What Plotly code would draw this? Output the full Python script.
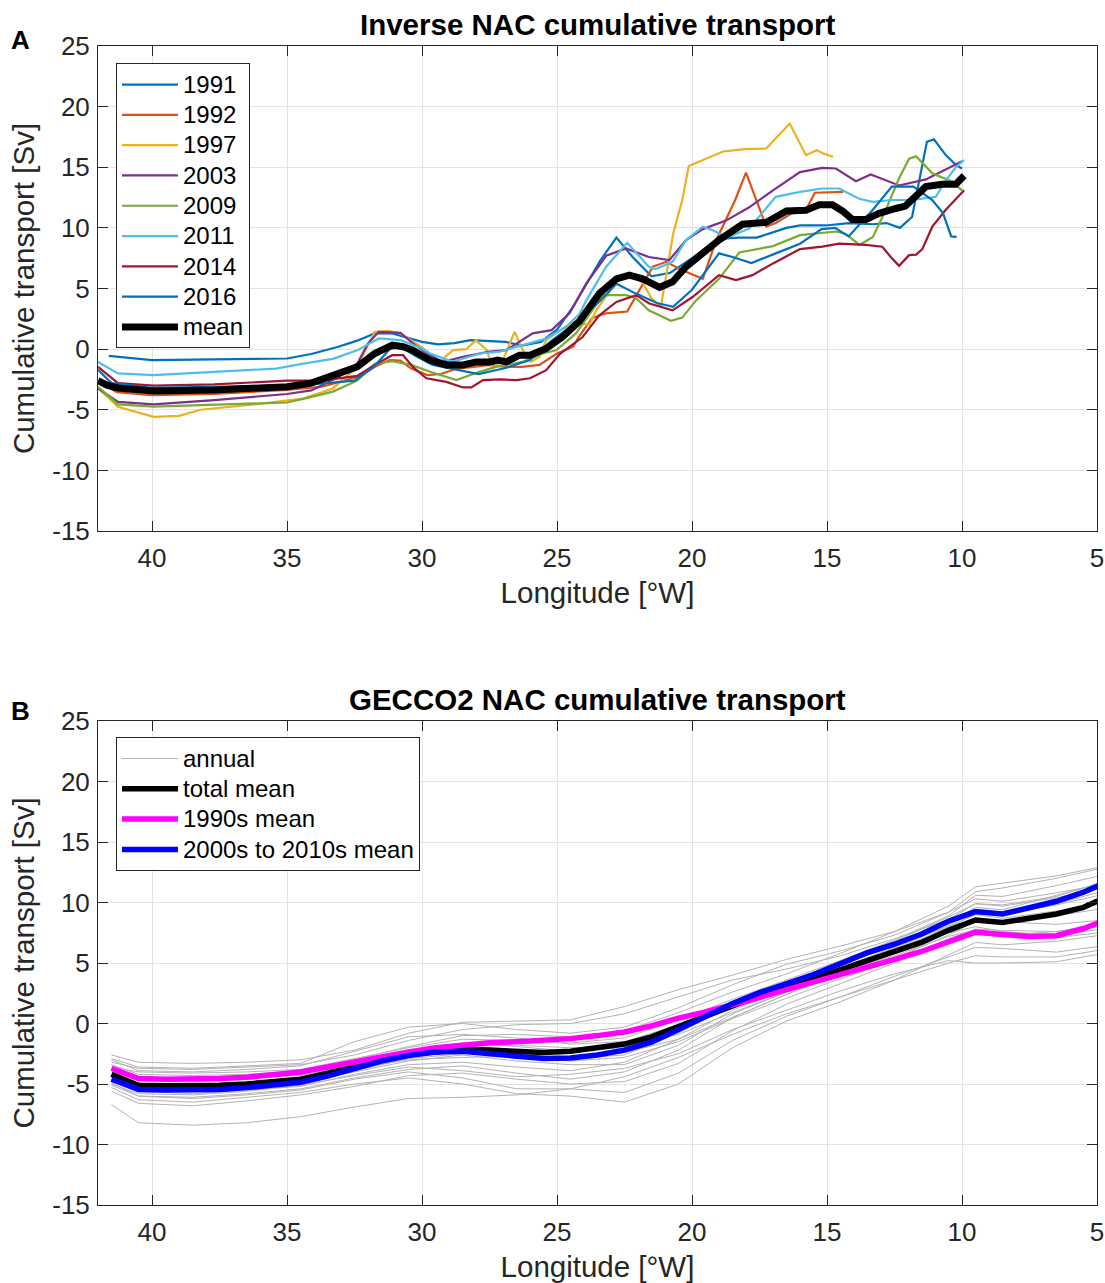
import plotly.graph_objects as go

# ---------------- Panel A data (inverse estimates) ----------------
lon_1991 = [41.6, 40.0, 37.7, 35.0, 34.1, 33.1, 32.4, 31.75, 31.1, 30.5, 30.0, 29.4, 28.8, 28.2, 27.5, 26.9, 26.3, 25.6, 25.0, 24.4, 23.4, 22.8, 22.2, 21.5, 20.8, 20.0, 19.0, 18.3, 17.6, 16.5, 16.0, 15.05, 14.2, 13.3, 12.8, 12.3, 11.85, 11.5, 11.3, 11.04, 10.85, 10.6, 10.23, 10.0]
val_1991 = [-0.55, -0.9, -0.85, -0.77, -0.4, 0.2, 0.7, 1.3, 1.3, 0.9, 0.6, 0.4, 0.5, 0.75, 0.7, 0.6, 0.3, 0.6, 1.6, 3.5, 7.3, 9.2, 7.6, 6.0, 6.3, 7.5, 9.1, 9.2, 9.2, 10.0, 10.2, 10.2, 10.4, 10.3, 10.4, 10.0, 10.9, 15.0, 17.1, 17.3, 16.7, 16.0, 15.2, 14.9]

lon_1992 = [42.0, 41.3, 40.0, 37.7, 35.0, 33.7, 32.4, 31.75, 31.2, 30.8, 30.4, 29.8, 29.3, 28.7, 28.1, 27.5, 26.9, 26.3, 25.65, 25.0, 24.4, 24.2, 23.7, 23.2, 22.4, 21.95, 21.45, 20.96, 20.36, 19.6, 19.1, 18.4, 18.0, 17.25, 16.9, 16.3, 15.8, 15.45, 14.4]
val_1992 = [-2.7, -3.55, -3.8, -3.7, -3.36, -3.1, -2.3, -1.46, -0.9, -0.95, -1.6, -2.14, -2.05, -1.6, -1.46, -1.3, -1.46, -1.46, -1.3, -0.36, 0.2, 1.0, 2.55, 2.95, 3.1, 4.87, 6.8, 7.2, 6.5, 5.8, 9.0, 12.3, 14.55, 10.1, 10.4, 11.2, 11.4, 12.9, 12.97]

lon_1997 = [42.0, 41.26, 39.94, 39.0, 38.2, 36.4, 34.4, 33.3, 32.4, 31.75, 31.23, 30.8, 30.04, 29.35, 28.85, 28.36, 28.0, 27.6, 27.38, 27.0, 26.57, 26.27, 25.96, 25.65, 25.4, 24.43, 23.8, 23.55, 22.8, 22.2, 21.8, 21.5, 21.15, 20.7, 20.36, 20.12, 18.85, 18.05, 17.25, 16.38, 15.78, 15.38, 15.1, 14.78]
val_1997 = [-3.2, -4.76, -5.58, -5.5, -5.0, -4.6, -4.07, -3.24, -1.46, 1.43, 1.5, 1.3, 0.2, -1.05, -0.08, 0.0, 0.74, -0.08, -1.57, -0.9, 1.43, -0.08, -1.05, -0.63, 0.74, 2.25, 2.0, 3.2, 5.55, 6.1, 5.4, 4.2, 3.5, 9.5, 12.3, 15.1, 16.3, 16.5, 16.55, 18.6, 16.0, 16.4, 16.1, 15.87]

lon_2003 = [42.0, 41.26, 39.94, 37.7, 35.0, 34.1, 33.1, 32.4, 32.0, 31.6, 30.8, 30.34, 29.7, 29.24, 28.4, 27.5, 26.88, 26.39, 25.9, 25.2, 24.54, 23.92, 23.18, 22.44, 21.6, 20.84, 20.22, 19.6, 18.74, 17.88, 17.0, 16.0, 15.18, 14.67, 13.93, 13.38, 12.33, 11.34, 10.0]
val_2003 = [-3.24, -4.35, -4.55, -4.2, -3.7, -3.4, -2.3, -1.2, 0.47, 1.43, 1.35, 0.47, -0.5, -1.05, -0.6, -0.2, -0.08, 0.6, 1.3, 1.57, 2.95, 5.4, 7.7, 8.3, 7.6, 7.34, 9.0, 9.9, 10.6, 11.7, 13.1, 14.6, 14.95, 14.9, 13.85, 14.4, 13.5, 14.0, 15.5]

lon_2009 = [42.0, 41.26, 39.94, 37.7, 35.0, 34.4, 33.3, 32.4, 31.75, 31.1, 30.4, 29.7, 28.73, 27.87, 27.26, 26.27, 25.53, 25.03, 24.3, 23.3, 22.44, 22.07, 21.6, 20.78, 20.36, 19.86, 19.0, 18.25, 17.0, 16.0, 14.67, 14.3, 13.8, 13.3, 12.82, 12.33, 11.96, 11.7, 11.1, 10.36, 10.0]
val_2009 = [-3.1, -4.55, -4.74, -4.58, -4.4, -4.1, -3.5, -2.6, -1.2, -1.0, -1.3, -1.87, -2.55, -1.87, -1.46, -1.05, -0.36, -0.1, 1.3, 4.45, 4.45, 4.2, 3.2, 2.34, 2.6, 4.0, 5.8, 7.97, 8.5, 9.4, 9.7, 9.5, 8.6, 9.26, 11.5, 14.1, 15.7, 15.9, 14.5, 13.8, 13.1]

lon_2011 = [42.0, 41.26, 39.94, 37.7, 35.4, 34.4, 33.3, 32.4, 31.6, 30.8, 30.04, 29.7, 28.86, 27.87, 27.13, 26.27, 25.4, 24.66, 24.17, 23.92, 23.18, 22.4, 21.6, 21.35, 20.72, 20.22, 19.6, 19.23, 18.7, 17.88, 16.9, 16.0, 15.17, 14.55, 13.81, 13.3, 12.58, 11.84, 10.97, 10.6, 10.23, 9.92]
val_2011 = [-1.05, -2.0, -2.14, -1.87, -1.6, -1.2, -0.8, -0.1, 0.88, 0.74, 0.1, -0.36, -1.05, -0.36, -0.2, 0.33, 0.88, 1.84, 2.9, 4.0, 6.8, 8.77, 6.8, 6.6, 7.2, 9.0, 10.1, 9.8, 9.2, 9.95, 12.56, 12.97, 13.25, 13.25, 12.4, 12.15, 12.3, 12.3, 12.56, 13.9, 15.0, 15.6]

lon_2014 = [42.0, 41.26, 39.94, 37.7, 35.0, 33.7, 32.4, 31.75, 31.1, 30.7, 30.34, 29.84, 29.1, 28.48, 28.17, 27.74, 27.13, 26.5, 26.0, 25.4, 24.9, 24.05, 23.43, 22.8, 22.07, 21.58, 20.72, 19.98, 19.0, 18.37, 17.76, 17.0, 16.0, 15.17, 14.55, 13.56, 12.95, 12.64, 12.33, 11.96, 11.7, 11.47, 11.1, 10.6, 9.92]
val_2014 = [-1.46, -2.8, -3.0, -2.9, -2.6, -2.6, -2.2, -1.3, -0.5, -0.5, -1.46, -2.4, -2.7, -3.16, -3.16, -2.55, -2.5, -2.55, -2.4, -1.73, -0.4, 1.0, 2.8, 3.9, 4.45, 3.77, 3.2, 4.3, 6.1, 5.7, 6.1, 7.07, 8.25, 8.45, 8.7, 8.6, 8.45, 7.6, 6.87, 7.75, 7.8, 8.25, 10.1, 11.5, 13.1]

lon_2016 = [42.0, 41.5, 40.0, 37.0, 35.0, 33.5, 32.5, 31.8, 31.2, 30.8, 30.2, 29.6, 28.7, 27.9, 27.4, 26.9, 26.0, 25.2, 24.4, 23.4, 22.8, 22.1, 21.3, 20.7, 20.0, 19.0, 18.5, 17.8, 16.9, 16.0, 15.2, 14.7, 14.2, 13.3, 12.6, 11.8, 11.1, 10.7, 10.4, 10.2]
val_2016 = [-1.7, -2.8, -3.2, -3.1, -3.0, -2.8, -2.6, -1.5, 0.0, 0.2, -0.6, -1.3, -1.7, -2.05, -1.8, -1.55, -0.9, 0.7, 2.0, 4.0, 5.4, 4.6, 3.8, 3.5, 4.9, 7.9, 7.6, 7.1, 7.9, 8.7, 9.9, 10.0, 9.3, 11.5, 13.4, 13.4, 12.3, 11.2, 9.3, 9.26]

lon_mean = [42.0, 41.67, 41.26, 39.94, 37.7, 35.0, 34.1, 33.1, 32.4, 31.75, 31.1, 30.7, 30.34, 29.72, 29.1, 28.48, 27.99, 27.5, 27.2, 26.88, 26.39, 26.0, 25.4, 24.8, 24.17, 23.43, 22.8, 22.32, 21.83, 21.2, 20.72, 20.22, 19.48, 19.0, 18.13, 17.26, 16.5, 15.78, 15.29, 14.8, 14.43, 14.06, 13.56, 13.07, 12.45, 12.1, 11.34, 10.73, 10.23, 9.92]
val_mean = [-2.6, -2.97, -3.2, -3.46, -3.36, -3.1, -2.8, -2.1, -1.46, -0.36, 0.33, 0.2, -0.08, -0.9, -1.3, -1.3, -1.05, -1.05, -0.9, -1.05, -0.5, -0.5, 0.05, 1.0, 2.3, 4.6, 5.8, 6.1, 5.8, 5.1, 5.55, 6.8, 8.2, 9.0, 10.3, 10.45, 11.4, 11.45, 11.9, 11.9, 11.4, 10.7, 10.7, 11.2, 11.6, 11.8, 13.4, 13.6, 13.6, 14.3]

years_a = ["1991", "1992", "1997", "2003", "2009", "2011", "2014", "2016"]
colors_a = ["#0072BD", "#D95319", "#EDB120", "#7E2F8E", "#77AC30", "#4DBEEE", "#A2142F", "#0072BD"]
lons_a = [lon_1991, lon_1992, lon_1997, lon_2003, lon_2009, lon_2011, lon_2014, lon_2016]
vals_a = [val_1991, val_1992, val_1997, val_2003, val_2009, val_2011, val_2014, val_2016]

# ---------------- Panel B data (GECCO2) ----------------
lon_b = [41.5, 40.5, 39.5, 38.5, 37.5, 36.5, 35.5, 34.5, 33.5, 32.5, 31.5, 30.5, 29.5, 28.5, 27.5, 26.5, 25.5, 24.5, 23.5, 22.5,
         21.5, 20.5, 19.5, 18.5, 17.5, 16.5, 15.5, 14.5, 13.5, 12.5, 11.5, 10.5, 9.5, 8.5, 7.5, 6.5, 5.5, 4.5]
total_mean = [-4.2, -5.1, -5.15, -5.15, -5.1, -5.0, -4.85, -4.6, -4.1, -3.5, -2.95, -2.55, -2.3, -2.15, -2.2, -2.35, -2.4, -2.3, -2.05, -1.7,
              -1.1, -0.25, 0.7, 1.55, 2.3, 2.95, 3.7, 4.5, 5.3, 5.95, 6.7, 7.7, 8.55, 8.35, 8.65, 9.05, 9.6, 10.6]
mean_1990s = [-3.7, -4.55, -4.6, -4.6, -4.55, -4.45, -4.25, -4.0, -3.6, -3.15, -2.7, -2.35, -2.0, -1.75, -1.6, -1.5, -1.4, -1.25, -1.0, -0.7,
              -0.2, 0.45, 0.95, 1.5, 2.15, 2.8, 3.4, 4.05, 4.7, 5.3, 5.95, 6.8, 7.55, 7.35, 7.2, 7.25, 7.85, 8.7]
mean_2000s = [-4.6, -5.45, -5.5, -5.5, -5.45, -5.3, -5.1, -4.85, -4.35, -3.7, -3.1, -2.65, -2.35, -2.3, -2.5, -2.75, -2.9, -2.85, -2.6, -2.2,
              -1.55, -0.5, 0.55, 1.65, 2.55, 3.3, 4.05, 4.95, 5.85, 6.55, 7.4, 8.45, 9.25, 9.05, 9.6, 10.1, 10.85, 11.85]

lon_annual = [41.5, 40.5, 38.5, 36.5, 34.5, 32.5, 30.5, 28.5, 26.5, 24.5, 22.5, 20.5, 18.5, 16.5, 14.5, 12.5, 10.5, 9.5, 8.5, 6.5, 4.5]
annual = [
    [-2.6, -3.2, -3.3, -3.2, -3.0, -2.2, -0.8, 0.1, 0.2, 0.3, 1.4, 2.8, 4.0, 5.3, 6.4, 7.6, 9.2, 10.3, 10.1, 10.8, 11.6],
    [-6.7, -8.2, -8.4, -8.2, -7.7, -6.9, -6.2, -6.1, -5.9, -5.4, -4.4, -2.8, -0.9, 0.8, 2.2, 3.6, 5.0, 5.6, 5.5, 5.5, 6.2],
    [-5.3, -6.3, -6.5, -6.1, -5.7, -5.0, -4.5, -5.0, -5.8, -6.0, -6.5, -5.0, -2.0, 0.2, 1.8, 3.6, 5.7, 6.7, 6.5, 6.8, 7.4],
    [-4.9, -6.0, -6.2, -5.9, -5.5, -4.6, -4.0, -4.5, -5.4, -5.4, -5.7, -4.1, -1.4, 0.6, 2.2, 3.9, 5.5, 6.3, 6.2, 5.9, 6.5],
    [-2.9, -3.6, -3.7, -3.5, -3.3, -1.5, -0.3, 0.0, -0.5, -0.8, -0.3, 1.3, 3.2, 4.9, 6.0, 7.3, 9.2, 10.9, 11.2, 12.0, 13.0],
    [-3.2, -3.7, -3.8, -3.6, -3.4, -2.6, -1.4, -0.5, -0.1, 0.0, 0.8, 2.2, 3.6, 4.5, 5.6, 7.0, 8.6, 9.9, 9.7, 10.4, 11.3],
    [-3.6, -4.0, -4.1, -4.0, -3.8, -2.9, -2.0, -1.3, -1.4, -1.6, -1.2, 0.3, 2.0, 3.6, 5.2, 6.9, 8.9, 10.6, 10.5, 11.4, 12.4],
    [-4.0, -4.7, -4.8, -4.6, -4.2, -3.3, -2.6, -1.9, -1.8, -2.0, -1.9, -0.9, 0.9, 2.6, 4.0, 5.4, 7.3, 8.5, 8.3, 8.9, 9.6],
    [-4.4, -5.2, -5.3, -5.1, -4.6, -3.7, -3.0, -2.8, -2.7, -2.8, -2.4, -1.3, 0.5, 2.4, 4.3, 6.1, 7.9, 9.1, 9.0, 9.8, 10.8],
    [-4.8, -5.6, -5.8, -5.5, -5.2, -4.2, -3.4, -3.2, -3.6, -3.9, -3.2, -1.3, 1.1, 2.9, 4.6, 6.3, 8.3, 9.6, 9.4, 10.6, 11.8],
    [-5.1, -6.0, -6.1, -5.8, -5.4, -4.5, -3.8, -3.5, -4.1, -4.6, -4.0, -2.2, 0.5, 2.4, 4.1, 5.9, 8.0, 9.0, 8.7, 9.3, 10.0],
    [-5.6, -6.6, -6.8, -6.4, -5.9, -5.2, -4.3, -4.1, -4.6, -5.0, -4.8, -3.3, -0.6, 1.6, 3.3, 5.0, 7.0, 7.8, 7.7, 7.6, 8.1],
    [-3.0, -3.9, -4.0, -3.8, -3.5, -2.3, -1.1, -0.9, -1.2, -1.7, -1.5, -0.1, 1.8, 3.3, 4.9, 6.4, 8.0, 8.6, 8.4, 8.2, 8.6],
    [-4.2, -5.0, -5.1, -4.9, -4.5, -3.5, -2.3, -1.6, -1.9, -2.3, -2.0, -0.6, 1.4, 2.9, 4.3, 5.6, 7.2, 7.7, 7.4, 7.1, 7.6],
    [-3.8, -4.4, -4.5, -4.3, -4.0, -3.1, -2.3, -2.1, -2.5, -2.9, -2.6, -0.8, 1.7, 3.4, 5.1, 6.8, 8.8, 9.9, 9.8, 10.5, 11.9],
    [-4.6, -5.4, -5.6, -5.3, -4.9, -4.0, -3.1, -2.6, -3.1, -3.4, -3.4, -1.8, 0.8, 2.6, 4.3, 6.0, 7.5, 8.0, 7.6, 7.3, 7.9],
    [-5.0, -5.8, -5.9, -5.6, -5.1, -4.3, -3.6, -3.9, -4.4, -4.2, -3.7, -2.5, -0.5, 1.1, 2.7, 4.1, 5.2, 5.0, 5.0, 5.1, 5.9],
    [-3.4, -4.2, -4.3, -4.2, -3.9, -3.0, -1.9, -1.0, -0.9, -1.1, -0.6, 0.9, 2.6, 4.1, 5.8, 7.6, 9.7, 11.3, 11.6, 12.2, 13.1],
    [-4.5, -5.3, -5.4, -5.2, -4.8, -3.9, -2.9, -2.5, -2.3, -2.2, -1.8, -0.3, 1.6, 3.1, 4.6, 6.2, 8.1, 9.3, 9.1, 9.9, 11.1],
    [-3.9, -4.5, -4.7, -4.5, -4.3, -3.4, -2.7, -2.4, -2.8, -3.1, -2.8, -1.5, 0.4, 2.1, 3.7, 5.2, 6.9, 7.4, 7.3, 7.6, 8.4],
]

x_ticks = [40, 35, 30, 25, 20, 15, 10, 5]
y_ticks = [-15, -10, -5, 0, 5, 10, 15, 20, 25]
y_ticktext = ["-15", "-10", "-5", "0", "5", "10", "15", "20", "25"]

FONT = "Liberation Sans"
AX = "#262626"


def leg(name):
    # legend line height follows the legend font (21 px); the label itself is drawn at 24 px
    return '<span style="font-size:24px">' + name + '</span>'


fig = go.Figure()

for yr, col, lo, va in zip(years_a, colors_a, lons_a, vals_a):
    fig.add_trace(go.Scatter(x=lo, y=va, mode="lines", name=leg(yr),
                             line=dict(color=col, width=2.2),
                             xaxis="x", yaxis="y", legend="legend"))
fig.add_trace(go.Scatter(x=lon_mean, y=val_mean, mode="lines", name=leg("mean"),
                         line=dict(color="black", width=7),
                         xaxis="x", yaxis="y", legend="legend"))

for i, a in enumerate(annual):
    fig.add_trace(go.Scatter(x=lon_annual, y=a, mode="lines", name=leg("annual"),
                             line=dict(color="#B3B3B3", width=1),
                             showlegend=(i == 0),
                             xaxis="x2", yaxis="y2", legend="legend2"))
fig.add_trace(go.Scatter(x=lon_b, y=total_mean, mode="lines", name=leg("total mean"),
                         line=dict(color="black", width=5.5), xaxis="x2", yaxis="y2", legend="legend2"))
fig.add_trace(go.Scatter(x=lon_b, y=mean_1990s, mode="lines", name=leg("1990s mean"),
                         line=dict(color="#FF00FF", width=5.5), xaxis="x2", yaxis="y2", legend="legend2"))
fig.add_trace(go.Scatter(x=lon_b, y=mean_2000s, mode="lines", name=leg("2000s to 2010s mean"),
                         line=dict(color="#0000FF", width=5.5), xaxis="x2", yaxis="y2", legend="legend2"))

top_dom = [0.5815, 1.0]
bot_dom = [0.0, 0.4176]


def xax(anchor):
    return dict(range=[42, 5], tickvals=x_ticks, ticks="inside", ticklen=10, tickcolor=AX,
                showline=True, linecolor=AX, linewidth=1, mirror="ticks",
                showgrid=True, gridcolor="#E3E3E3", gridwidth=1, zeroline=False,
                tickfont=dict(family=FONT, size=26, color=AX), anchor=anchor, automargin=False,
                ticklabelstandoff=4,
                title=dict(text="Longitude [°W]", font=dict(family=FONT, size=29.5, color=AX), standoff=10))


def yax(anchor, dom):
    return dict(range=[-15, 25], tickvals=y_ticks, ticktext=y_ticktext, ticks="inside", ticklen=10,
                tickcolor=AX, showline=True, linecolor=AX, linewidth=1, mirror="ticks",
                showgrid=True, gridcolor="#E3E3E3", gridwidth=1, zeroline=False, domain=dom,
                tickfont=dict(family=FONT, size=26, color=AX), anchor=anchor, automargin=False,
                ticklabelstandoff=2,
                title=dict(text="Cumulative transport [Sv]", font=dict(family=FONT, size=29.5, color=AX), standoff=8))


legend_common = dict(bgcolor="white", bordercolor=AX, borderwidth=1,
                     font=dict(family=FONT, size=21, color="black"),
                     xanchor="left", yanchor="top", tracegroupgap=0, itemwidth=56)

fig.update_layout(
    width=1105, height=1283,
    margin=dict(l=98, r=8, t=46, b=78),
    paper_bgcolor="white", plot_bgcolor="white",
    font=dict(family=FONT, color=AX),
    xaxis=xax("y"), yaxis=yax("x", top_dom),
    xaxis2=xax("y2"), yaxis2=yax("x2", bot_dom),
    legend=dict(x=0.018, y=0.985, **legend_common),
    legend2=dict(x=0.018, y=0.4035, **legend_common),
    annotations=[
        dict(text="<b>Inverse NAC cumulative transport</b>", xref="paper", yref="paper", x=0.5, y=1.0,
             xanchor="center", yanchor="bottom", yshift=3, showarrow=False,
             font=dict(family=FONT, size=29.5, color="black")),
        dict(text="<b>GECCO2 NAC cumulative transport</b>", xref="paper", yref="paper", x=0.5, y=bot_dom[1],
             xanchor="center", yanchor="bottom", yshift=3, showarrow=False,
             font=dict(family=FONT, size=29.5, color="black")),
        dict(text="<b>A</b>", xref="paper", yref="paper", x=-0.078, y=1.005, xanchor="center", yanchor="middle",
             showarrow=False, font=dict(family=FONT, size=26, color="black")),
        dict(text="<b>B</b>", xref="paper", yref="paper", x=-0.078, y=bot_dom[1] + 0.0085, xanchor="center",
             yanchor="middle", showarrow=False, font=dict(family=FONT, size=26, color="black")),
    ],
)

fig.write_html("out.html")
